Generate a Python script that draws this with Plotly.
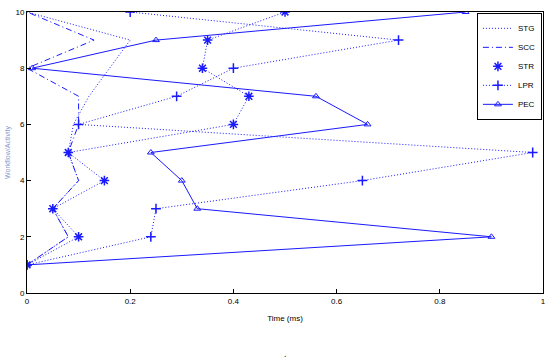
import plotly.graph_objects as go

tasks = [1, 2, 3, 4, 5, 6, 7, 8, 9, 10]
stg = [0.0, 0.08, 0.05, 0.10, 0.08, 0.09, 0.12, 0.16, 0.20, 0.0]
scc = [0.0, 0.08, 0.05, 0.10, 0.08, 0.10, 0.10, 0.0, 0.13, 0.0]
strv = [0.0, 0.10, 0.05, 0.15, 0.08, 0.40, 0.43, 0.34, 0.35, 0.50]
lpr = [0.0, 0.24, 0.25, 0.65, 0.98, 0.10, 0.29, 0.40, 0.72, 0.20]
pec = [0.0, 0.90, 0.33, 0.30, 0.24, 0.66, 0.56, 0.01, 0.25, 0.85]

C = "#1a1aff"
DOT = "1px,2px"
DASHDOT = "6px,3px,1px,3px"
STAR = dict(symbol="asterisk-open", size=8, color=C, line=dict(color=C, width=1.5))
fig = go.Figure()
fig.add_trace(go.Scatter(x=stg, y=tasks, name="STG", mode="lines",
                         line=dict(color=C, width=1, dash=DOT)))
fig.add_trace(go.Scatter(x=scc, y=tasks, name="SCC", mode="lines",
                         line=dict(color=C, width=1, dash=DASHDOT)))
fig.add_trace(go.Scatter(x=strv, y=tasks, name="STR", mode="lines+markers",
                         line=dict(color=C, width=1, dash=DOT), showlegend=False, marker=STAR))
fig.add_trace(go.Scatter(x=[None], y=[None], name="STR", mode="markers", marker=STAR))
fig.add_trace(go.Scatter(x=lpr, y=tasks, name="LPR", mode="lines+markers",
                         line=dict(color=C, width=1, dash=DOT),
                         marker=dict(symbol="cross-thin-open", size=7, color=C, line=dict(color=C, width=1.5))))
fig.add_trace(go.Scatter(x=pec, y=tasks, name="PEC", mode="lines+markers",
                         line=dict(color=C, width=1),
                         marker=dict(symbol="triangle-up-open", size=6, color=C, line=dict(color=C, width=1))))

ax = dict(showgrid=False, zeroline=False, showline=True, linecolor="black", linewidth=1,
          mirror=True, ticks="inside", ticklen=4, tickcolor="black", automargin=False,
          tickfont=dict(family="Liberation Sans", size=8, color="black"))
fig.update_layout(
    width=553, height=362, margin=dict(l=27, r=10, t=12, b=69),
    paper_bgcolor="white", plot_bgcolor="white",
    xaxis=dict(range=[0, 1], tickvals=[0, 0.2, 0.4, 0.6, 0.8, 1], ticktext=["0", "0.2", "0.4", "0.6", "0.8", "1"],
               title=dict(text="Time (ms)", font=dict(family="Liberation Sans", size=8, color="black"), standoff=10), **ax),
    yaxis=dict(range=[0, 10], tickvals=[0, 2, 4, 6, 8, 10],
               title=dict(text="Workflow/Activity", font=dict(family="Liberation Sans", size=7, color="#8899cc"), standoff=4), **ax),
    legend=dict(x=0.872, y=0.997, xanchor="left", yanchor="top", bgcolor="white",
                bordercolor="black", borderwidth=1, font=dict(family="Liberation Sans", size=8, color="black"),
                tracegroupgap=0, itemwidth=30),
    showlegend=True,
)
fig.add_annotation(text=".", x=0.5, y=-0.215, xref="paper", yref="paper", yanchor="middle",
                   showarrow=False, font=dict(size=9, color="black"))
fig.write_html("out.html")
